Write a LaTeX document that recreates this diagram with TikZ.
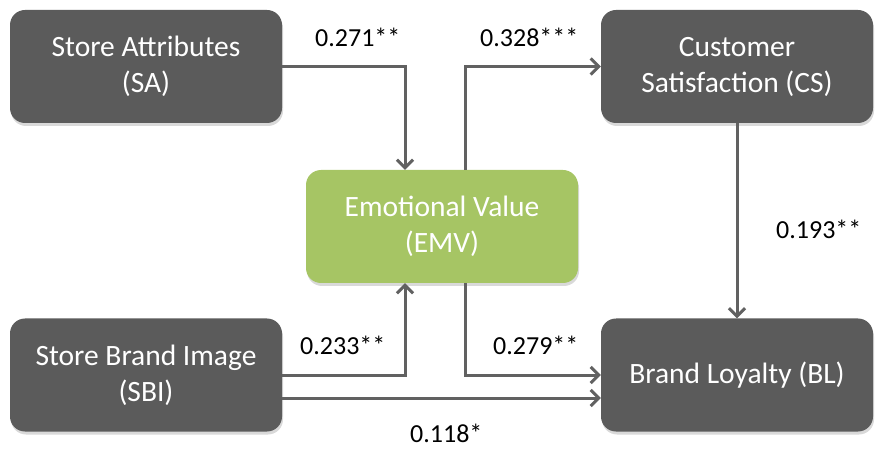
\documentclass[tikz,border=0pt]{standalone}
\usepackage{fontspec}
\setmainfont{Carlito}
\usepackage{xcolor}
\usepackage{tikz}
\usetikzlibrary{arrows.meta,positioning,calc,shadows}

\definecolor{boxgray}{HTML}{5B5B5B}
\definecolor{emvgreen}{HTML}{A6C564}
\definecolor{arrgray}{HTML}{616161}

\begin{document}
\begin{tikzpicture}[x=1pt,y=-1pt,
            box/.style={rectangle, rounded corners=15pt, fill=boxgray, text=white,
                 minimum width=272pt, minimum height=113pt, align=center,
                 font=\fontsize{29.5}{36}\selectfont,
                 drop shadow={shadow xshift=1pt, shadow yshift=-3pt, opacity=.3}},
            emo/.style={box, fill=emvgreen},
            lbl/.style={anchor=west, inner sep=0pt, font=\fontsize{26}{30}\selectfont},
            arr/.style={draw=arrgray, line width=3pt, -{Straight Barb[length=8pt,width=16pt,line width=3pt]}}
            ]
            \useasboundingbox (0,0) rectangle (879,449);

            % Nodes with manual coordinates
            \node[box] (sa) at (146,66.5) {Store Attributes\\(SA)};
            \node[box] (cs) at (737,66.5) {Customer\\Satisfaction (CS)};
            \node[emo] (emv) at (442,226.5) {Emotional Value\\(EMV)};
            \node[box] (sbi) at (146,375) {Store Brand Image\\(SBI)};
            \node[box] (bl) at (737,375) {Brand Loyalty (BL)};

            % Path coefficients
            \node[lbl] (l271) at (315,37) {0.271**};
            \node[lbl] (l328) at (480,37) {0.328***};
            \node[lbl] (l193) at (776,229) {0.193**};
            \node[lbl] (l233) at (300,345) {0.233**};
            \node[lbl] (l279) at (493,345) {0.279**};
            \node[lbl] (l118) at (410,433) {0.118*};

            % Arrows
            \draw[arr] (sa.east) -| ([xshift=-37pt]emv.north);
            \draw[arr] (sbi.east) -| ([xshift=-37pt]emv.south);
            \draw[arr] ([xshift=23pt]emv.north) |- (cs.west);
            \draw[arr] ([xshift=23pt]emv.south) |- (bl.west);
            \draw[arr] (cs.south) -- (bl.north);
            \draw[arr] ([yshift=-23pt]sbi.east) -- ([yshift=-23pt]bl.west);
        \end{tikzpicture}
\end{document}
